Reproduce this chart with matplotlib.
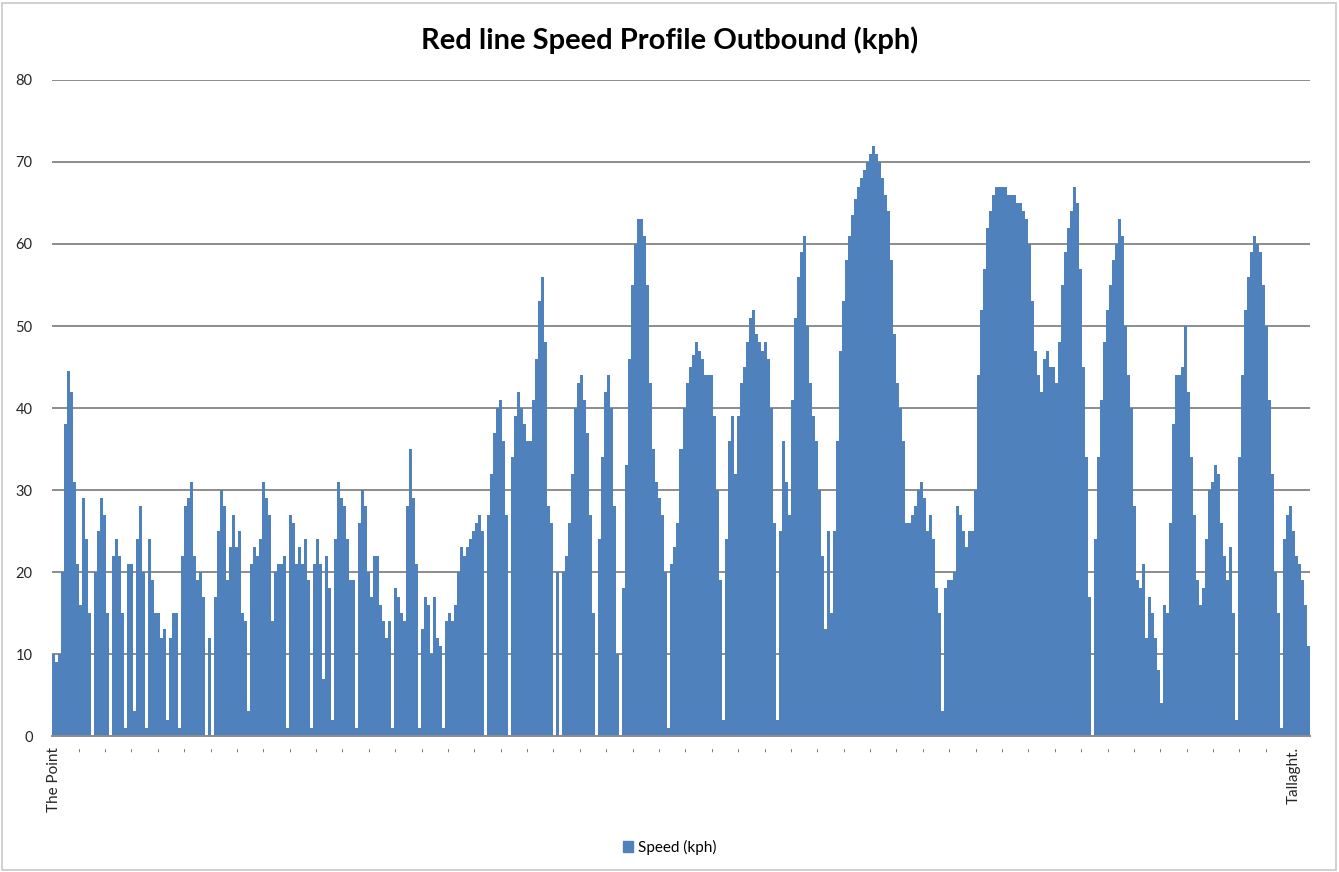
import matplotlib
matplotlib.use("Agg")
import matplotlib.pyplot as plt
from matplotlib.patches import Rectangle, Patch

# Speed (kph) along the Red line outbound, The Point -> Tallaght, one value per sample
speed = [
    10, 9, 10, 20, 38, 44.5, 42, 31, 21, 16,
    29, 24, 15, 0, 20, 25, 29, 27, 15, 0,
    22, 24, 22, 15, 1, 21, 21, 3, 24, 28,
    20, 1, 24, 19, 15, 15, 12, 13, 2, 12,
    15, 15, 1, 22, 28, 29, 31, 22, 19, 20,
    17, 0, 12, 0, 17, 25, 30, 28, 19, 23,
    27, 23, 25, 15, 14, 3, 21, 23, 22, 24,
    31, 29, 27, 14, 20, 21, 21, 22, 1, 27,
    26, 21, 23, 21, 24, 19, 1, 21, 24, 21,
    7, 22, 18, 2, 24, 31, 29, 28, 24, 19,
    19, 1, 26, 30, 28, 20, 17, 22, 22, 16,
    14, 12, 14, 1, 18, 17, 15, 14, 28, 35,
    29, 21, 1, 13, 17, 16, 10, 17, 12, 11,
    1, 14, 15, 14, 16, 20, 23, 22, 23, 24,
    25, 26, 27, 25, 0, 27, 32, 37, 40, 41,
    36, 27, 0, 34, 39, 42, 40, 38, 36, 36,
    41, 46, 53, 56, 48, 28, 26, 0, 20, 0,
    20, 22, 26, 32, 40, 43, 44, 41, 37, 27,
    15, 0, 24, 34, 42, 44, 40, 28, 10, 0,
    18, 33, 46, 55, 60, 63, 63, 61, 55, 43,
    35, 31, 29, 27, 20, 1, 21, 23, 26, 35,
    40, 43, 45, 46.5, 48, 47, 46, 44, 44, 44,
    39, 30, 19, 2, 24, 36, 39, 32, 39, 43,
    45, 48, 51, 52, 49, 48, 47, 48, 46, 40,
    26, 2, 25, 36, 31, 27, 41, 51, 56, 59,
    61, 50, 43, 39, 36, 30, 22, 13, 25, 15,
    25, 36, 47, 53, 58, 61, 63.5, 65.5, 67, 68,
    69, 70, 71, 72, 71, 70, 68, 66, 64, 58,
    49, 43, 40, 36, 26, 26, 27, 28, 30, 31,
    29, 25, 27, 24, 18, 15, 3, 18, 19, 19,
    20, 28, 27, 25, 23, 25, 25, 30, 44, 52,
    57, 62, 64, 66, 67, 67, 67, 67, 66, 66,
    66, 65, 65, 64, 63, 60, 53, 47, 44, 42,
    46, 47, 45, 45, 43, 48, 55, 59, 62, 64,
    67, 65, 57, 45, 34, 17, 0, 24, 34, 41,
    48, 52, 55, 58, 60, 63, 61, 50, 44, 40,
    28, 19, 18, 21, 12, 17, 15, 12, 8, 4,
    16, 15, 26, 38, 44, 44, 45, 50, 42, 34,
    27, 19, 16, 18, 24, 30, 31, 33, 32, 26,
    22, 19, 23, 15, 2, 34, 44, 52, 56, 59,
    61, 60, 59, 55, 50, 41, 32, 20, 15, 1,
    24, 27, 28, 25, 22, 21, 19, 16, 11,
]

start_label = "The Point"
end_label = "Tallaght."
n_labels = 48
y_ticks = [0, 10, 20, 30, 40, 50, 60, 70, 80]

BLUE = "#4f81bd"
GRID = "#8c8c8c"

plt.rcParams["font.family"] = ["Lato", "DejaVu Sans"]

fig = plt.figure(figsize=(13.39, 8.72), dpi=100)
ax = fig.add_axes([52 / 1339, 136 / 872, 1258 / 1339, 656 / 872])

n = len(speed)
# no antialiasing so neighbouring columns join without hairline seams
ax.bar(range(n), speed, width=1.0, color=BLUE, linewidth=0,
       antialiased=False, zorder=2, label="Speed (kph)")

ax.set_xlim(-0.5, n - 0.5)
ax.set_ylim(0, 80)
ax.set_yticks(y_ticks)
ax.yaxis.grid(True, color=GRID, linewidth=1.4, zorder=0)
ax.set_axisbelow(True)
ax.tick_params(axis="y", length=0, pad=14, labelsize=10.5, labelcolor="#262626")
for s in ("top", "right", "left"):
    ax.spines[s].set_visible(False)
ax.spines["bottom"].set_color(GRID)
ax.spines["bottom"].set_linewidth(1.4)

# category labels: only the two termini are named, the rest show as dashes
last = 413
pos = [k * last / (n_labels - 1) for k in range(n_labels)]
labels = [start_label] + ["-"] * (n_labels - 2) + [end_label]
ax.set_xticks(pos)
ax.set_xticklabels(labels, rotation=90, fontsize=11, color="#262626")
ax.tick_params(axis="x", length=0, pad=8)
for t in ax.get_xticklabels()[1:-1]:
    t.set_color("#8a7a4a")
    t.set_fontsize(9)

fig.text(0.5, 1 - 40 / 872, "Red line Speed Profile Outbound (kph)",
         ha="center", va="center", fontsize=21, fontweight="bold", color="#000000")

fig.legend(handles=[Patch(color=BLUE, label="Speed (kph)")], loc="center",
           bbox_to_anchor=(0.5, 1 - 847 / 872), frameon=False, fontsize=11,
           handlelength=0.7, handleheight=0.7, handletextpad=0.3)

fig.patches.append(Rectangle((2 / 1339, 2 / 872), 1 - 5 / 1339, 1 - 5 / 872,
                             transform=fig.transFigure, fill=False,
                             edgecolor="#c8c8c8", linewidth=1.2))

fig.savefig("out.png", dpi=100)
plt.close(fig)
